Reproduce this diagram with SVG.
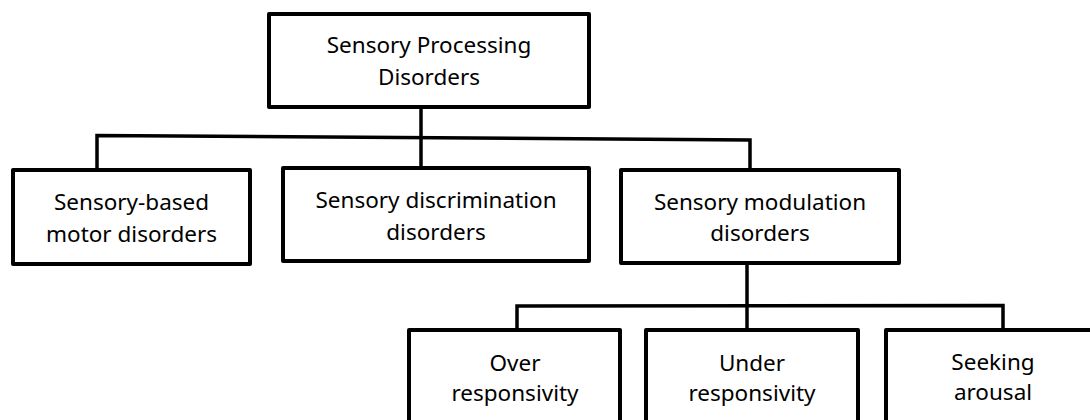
<svg xmlns="http://www.w3.org/2000/svg" width="1090" height="420" viewBox="0 0 1090 420">
<style>
.box{fill:#fff;stroke:#000;stroke-width:4;stroke-linejoin:round}
.lbl{font-family:"Noto Sans","Open Sans",sans-serif;font-size:22.5px;fill:#000;text-anchor:middle}
.con{fill:none;stroke:#000;stroke-width:3.5;stroke-linejoin:miter}
</style>
<rect width="1090" height="420" fill="#fff"/>
<g id="connectors">
<path class="con" d="M421,107 V168"/>
<path class="con" d="M97,170 V135.5 L750,140 V170"/>
<path class="con" d="M747,263 V330"/>
<path class="con" d="M517,330 V306 L1003,305.5 V330"/>
</g>
<g id="n-root">
<rect class="box" x="269" y="14" width="320" height="93"/>
<text class="lbl" x="429" y="53">Sensory Processing</text>
<text class="lbl" x="429" y="85">Disorders</text>
</g>
<g id="n-motor">
<rect class="box" x="13" y="170" width="237" height="94"/>
<text class="lbl" x="131.5" y="210">Sensory-based</text>
<text class="lbl" x="131.5" y="242">motor disorders</text>
</g>
<g id="n-discrimination">
<rect class="box" x="283" y="168" width="306" height="93"/>
<text class="lbl" x="436" y="208">Sensory discrimination</text>
<text class="lbl" x="436" y="240">disorders</text>
</g>
<g id="n-modulation">
<rect class="box" x="621" y="170" width="278" height="93"/>
<text class="lbl" x="760" y="210">Sensory modulation</text>
<text class="lbl" x="760" y="241">disorders</text>
</g>
<g id="n-over">
<rect class="box" x="409" y="330" width="211" height="120"/>
<text class="lbl" x="515" y="371">Over</text>
<text class="lbl" x="515" y="401">responsivity</text>
</g>
<g id="n-under">
<rect class="box" x="646" y="330" width="212" height="120"/>
<text class="lbl" x="752" y="371">Under</text>
<text class="lbl" x="752" y="401">responsivity</text>
</g>
<g id="n-seeking">
<rect class="box" x="886" y="330" width="216" height="120"/>
<text class="lbl" x="993" y="370">Seeking</text>
<text class="lbl" x="993" y="400">arousal</text>
</g>
</svg>
